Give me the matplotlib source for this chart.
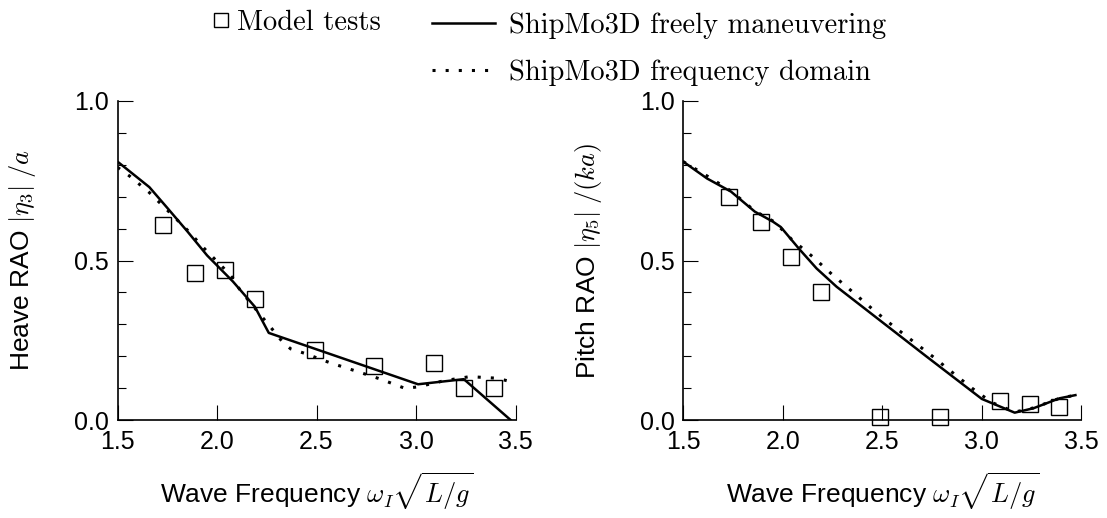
import matplotlib
matplotlib.use("Agg")
import matplotlib.pyplot as plt
from matplotlib.lines import Line2D
from matplotlib.ticker import MultipleLocator

plt.rcParams['font.family'] = ['Liberation Sans', 'DejaVu Sans']
plt.rcParams['mathtext.fontset'] = 'cm'

# === DATA ===
# model test points (same frequencies for heave and pitch)
test_freq = [1.73, 1.89, 2.04, 2.19, 2.49, 2.79, 3.09, 3.24, 3.39]
heave_tests = [0.61, 0.46, 0.47, 0.38, 0.22, 0.17, 0.18, 0.10, 0.10]
pitch_tests = [0.70, 0.62, 0.51, 0.40, 0.01, 0.01, 0.06, 0.05, 0.04]

# ShipMo3D freely maneuvering (solid)
heave_free_freq = [1.5, 1.66, 1.75, 1.85, 1.95, 2.08, 2.19, 2.26, 3.01, 3.24, 3.475]
heave_free = [0.81, 0.73, 0.665, 0.592, 0.516, 0.434, 0.355, 0.273, 0.112, 0.128, 0.0]

pitch_free_freq = [1.5, 1.62, 1.74, 1.86, 1.95, 1.99, 2.08, 2.17, 2.27,
                   2.72, 3.0, 3.165, 3.26, 3.39, 3.47]
pitch_free = [0.81, 0.757, 0.716, 0.653, 0.622, 0.605, 0.538, 0.475, 0.418,
              0.200, 0.066, 0.023, 0.037, 0.068, 0.078]

# ShipMo3D frequency domain (dotted)
heave_fd_freq = [1.5, 1.56, 1.66, 1.75, 1.85, 1.94, 2.035, 2.08, 2.115, 2.2, 2.285,
                 2.33, 2.37, 2.44, 2.565, 2.69, 2.82, 2.945, 3.01, 3.14, 3.27, 3.405, 3.465]
heave_fd = [0.792, 0.765, 0.713, 0.658, 0.596, 0.535, 0.475, 0.444, 0.408, 0.343, 0.279,
            0.244, 0.223, 0.209, 0.180, 0.155, 0.1285, 0.099, 0.104, 0.123, 0.136, 0.131, 0.122]

pitch_fd_freq = [1.5, 1.62, 1.74, 1.86, 1.95, 2.0, 2.045, 2.15, 2.25, 2.35, 2.45, 2.55,
                 2.66, 2.77, 2.82, 2.95, 3.05, 3.166, 3.26, 3.39, 3.47]
pitch_fd = [0.81, 0.765, 0.718, 0.655, 0.624, 0.595, 0.566, 0.512, 0.455, 0.402, 0.348,
            0.297, 0.244, 0.191, 0.165, 0.10, 0.055, 0.025, 0.038, 0.068, 0.078]

xticks = [1.5, 2.0, 2.5, 3.0, 3.5]
xtick_labels = ['1.5', '2.0', '2.5', '3.0', '3.5']
yticks = [0.0, 0.5, 1.0]
ytick_labels = ['0.0', '0.5', '1.0']

ylabels = [r'Heave RAO $|\eta_3|\;/a$', r'Pitch RAO $|\eta_5|\;/(ka)$']
xlabel = r'Wave Frequency $\omega_I\sqrt{L/g}$'

# === FIGURE ===
W, H = 1107, 518
fig = plt.figure(figsize=(W / 100, H / 100), dpi=100)
ax1 = fig.add_axes([117.5 / W, 98 / H, 398.1 / W, 319 / H])
ax2 = fig.add_axes([683.2 / W, 98 / H, 398.2 / W, 319 / H])

fd_style = dict(color='k', lw=2.2, linestyle=(0, (1, 3.3)), dash_capstyle='butt')
free_style = dict(color='k', lw=1.8, solid_joinstyle='round')
test_style = dict(ls='none', marker='s', ms=11, mfc='none', mec='k', mew=1.0, clip_on=False)

ax1.plot(heave_fd_freq, heave_fd, **fd_style)
ax1.plot(heave_free_freq, heave_free, **free_style)
ax1.plot(test_freq, heave_tests, **test_style)

ax2.plot(pitch_fd_freq, pitch_fd, **fd_style)
ax2.plot(pitch_free_freq, pitch_free, **free_style)
ax2.plot(test_freq, pitch_tests, **test_style)

for ax, yl in zip([ax1, ax2], ylabels):
    ax.set_xlim(1.5, 3.5)
    ax.set_ylim(0.0, 1.0)
    ax.spines['top'].set_visible(False)
    ax.spines['right'].set_visible(False)
    for s in ['left', 'bottom']:
        ax.spines[s].set_linewidth(1.2)
    ax.set_xticks(xticks)
    ax.set_xticklabels(xtick_labels)
    ax.set_yticks(yticks)
    ax.set_yticklabels(ytick_labels)
    ax.yaxis.set_minor_locator(MultipleLocator(0.1))
    ax.tick_params(which='major', direction='in', length=10.5, width=0.8, labelsize=18)
    ax.tick_params(which='minor', direction='in', length=6, width=0.8)
    ax.tick_params(axis='x', pad=7)
    ax.tick_params(axis='y', pad=6)
    ax.set_ylabel(yl, fontsize=19)
    ax.yaxis.set_label_coords(-0.20, 0.5)
    ax.set_xlabel(xlabel, fontsize=19, labelpad=12)

# === LEGEND ===
sq = Line2D([], [], ls='none', marker='s', ms=10.5, mfc='none', mec='k', mew=1.0)
solid = Line2D([], [], **free_style)
dotted = Line2D([], [], **fd_style)
leg_font = dict(family='cmr10', size=20.5)

fig.legend([sq], ['Model tests'], loc='center left', bbox_to_anchor=(211 / W, 1 - 23 / H),
           frameon=False, prop=leg_font, handlelength=0.68, handletextpad=0.22,
           borderpad=0, borderaxespad=0)
fig.legend([solid, dotted], ['ShipMo3D freely maneuvering', 'ShipMo3D frequency domain'],
           loc='center left', bbox_to_anchor=(432 / W, 1 - 49 / H),
           frameon=False, prop=leg_font, handlelength=2.2, handletextpad=0.5,
           labelspacing=0.72, borderpad=0, borderaxespad=0)

plt.savefig('out.png', dpi=100)
